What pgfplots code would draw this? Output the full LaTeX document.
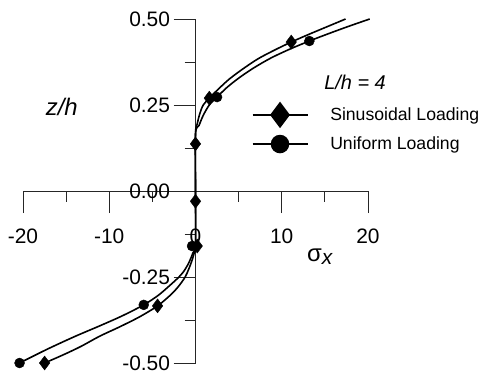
\documentclass[border=0pt]{standalone}
\usepackage{fontspec}
\setmainfont{Liberation Sans}
\usepackage{pgfplots}
\pgfplotsset{compat=1.18}
\begin{document}
\begin{tikzpicture}
\begin{axis}[
  scale only axis, width=345bp, height=344bp,
  xmin=-20, xmax=20, ymin=-0.5, ymax=0.5,
  axis lines=middle, axis line style={-, black!85, line width=0.9bp},
  tick align=outside,
  major tick length=22bp, minor tick length=11bp,
  every tick/.style={black!85, line width=0.9bp},
  xtick={-20,-10,0,10,20}, xticklabels={-20,-10,0,10,20},
  minor xtick={-15,-5,5,15},
  ytick={-0.5,-0.25,0,0.25,0.5}, yticklabels={-0.50,-0.25,0.00,0.25,0.50},
  minor ytick={-0.375,-0.125,0.125,0.375},
  ticklabel style={font=\fontsize{21}{25}\selectfont},
  xticklabel style={yshift=-12bp},
  clip=false,
  legend style={at={(axis cs:6.5,0.183)}, anchor=west, draw=none, fill=none,
    font=\fontsize{17.7}{21}\selectfont, inner sep=0pt, row sep=8bp,
    /tikz/every odd column/.append style={column sep=20bp}},
  legend cell align=left,
  legend image code/.code={\draw[#1] (0bp,0bp) -- (55bp,0bp); \draw[#1, only marks] plot coordinates {(27.5bp,0bp)};},
]
% Sinusoidal loading curve
\addplot[black, line width=1.6bp, smooth, tension=0.5, forget plot] coordinates {
(-17.5,-0.5) (-15.4,-0.477) (-13.3,-0.452) (-11.1,-0.422) (-8.8,-0.395) (-6.5,-0.366) (-4.4,-0.334)
(-2.8,-0.30) (-1.9,-0.275) (-1.2,-0.25) (-0.8,-0.228) (-0.45,-0.205) (-0.15,-0.18) (0,-0.16)
(0,0) (0,0.165) (0.2,0.195) (0.5,0.225) (0.9,0.25) (1.6,0.27) (2.6,0.295) (3.9,0.325) (5.5,0.355)
(7.3,0.385) (9.2,0.41) (11.1,0.433) (13.2,0.456) (15.3,0.478) (17.4,0.5)
};
% Uniform loading curve
\addplot[black, line width=1.6bp, smooth, tension=0.5, forget plot] coordinates {
(-20.4,-0.5) (-17.2,-0.46) (-14.0,-0.423) (-11.1,-0.392) (-8.5,-0.363) (-6.0,-0.331) (-4.3,-0.303)
(-3.0,-0.275) (-2.0,-0.252) (-1.4,-0.235) (-0.8,-0.21) (-0.3,-0.18) (0,-0.155)
(0,0) (0,0.165) (0.4,0.19) (0.9,0.22) (1.6,0.25) (2.5,0.273) (3.6,0.30) (5.0,0.328) (6.7,0.357)
(8.7,0.386) (10.9,0.412) (13.2,0.436) (15.6,0.459) (17.9,0.48) (20.2,0.5)
};
% markers
\addplot[only marks, mark=*, mark size=5bp, black, forget plot] coordinates {
(13.2,0.436) (2.5,0.273) (-0.4,-0.16) (-6.0,-0.331) (-20.4,-0.5)
};
\addplot[only marks, mark=diamond*, mark size=7bp, black, forget plot] coordinates {
(11.1,0.433) (1.6,0.27) (0,0.137) (0,-0.03) (0.2,-0.16) (-4.4,-0.334) (-17.5,-0.5)
};
\addlegendimage{black, line width=1.5bp, mark=diamond*, mark size=12bp, mark options={solid}}
\addlegendentry{Sinusoidal Loading}
\addlegendimage{black, line width=1.5bp, mark=*, mark size=8.5bp, mark options={solid}}
\addlegendentry{Uniform Loading}
\node[font=\fontsize{20}{24}\selectfont\itshape] at (axis cs:18.5,0.317) {L/h = 4};
\node[font=\fontsize{24}{28}\selectfont\itshape] at (axis cs:-15.5,0.245) {z/h};
\node[font=\fontsize{24}{28}\selectfont] at (axis cs:14.4,-0.19) {σ\raisebox{-3bp}{\fontsize{21}{25}\selectfont\itshape x}};
\node[font=\fontsize{21}{25}\selectfont, anchor=east, inner sep=0.3333em, xshift=-22bp] at (axis cs:0,0) {0.00};
\node[font=\fontsize{21}{25}\selectfont, anchor=north, inner sep=0.3333em, yshift=-34bp] at (axis cs:0,0) {0};
\coordinate (O) at (axis cs:0,0);
\end{axis}
\pgfresetboundingbox
\path (O) ++(-195.5bp,-184bp) rectangle ++(478bp,375bp);
\end{tikzpicture}
\end{document}
